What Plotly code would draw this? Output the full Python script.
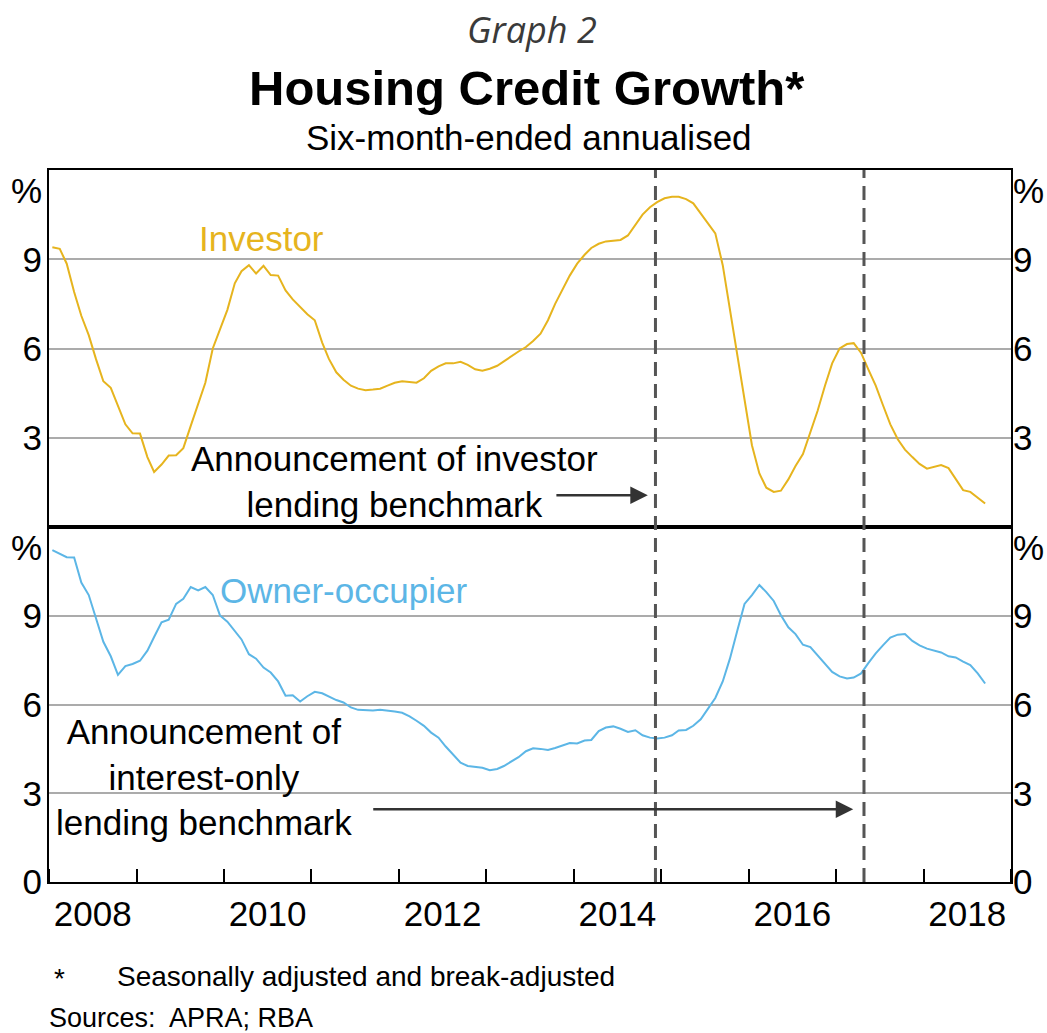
import pandas as pd
import plotly.graph_objects as go

# ---------------- data ----------------
start_month = "2008-01-01"
n_months = 129  # Jan 2008 .. Sep 2018

investor = [
    9.40, 9.35, 8.85, 7.90, 7.10, 6.45, 5.65, 4.90, 4.68, 4.10,
    3.45, 3.15, 3.14, 2.35, 1.85, 2.10, 2.40, 2.41, 2.65, 3.40,
    4.10, 4.85, 6.00, 6.65, 7.30, 8.19, 8.60, 8.80, 8.52, 8.78,
    8.47, 8.45, 7.95, 7.65, 7.38, 7.15, 6.95, 6.20, 5.65, 5.20,
    4.95, 4.75, 4.65, 4.60, 4.62, 4.65, 4.75, 4.85, 4.90, 4.88,
    4.85, 5.00, 5.25, 5.40, 5.50, 5.50, 5.55, 5.45, 5.30, 5.25,
    5.32, 5.42, 5.58, 5.75, 5.90, 6.05, 6.25, 6.50, 6.95, 7.50,
    8.00, 8.45, 8.85, 9.15, 9.38, 9.52, 9.60, 9.62, 9.65, 9.80,
    10.15, 10.50, 10.75, 10.92, 11.05, 11.10, 11.10, 11.02, 10.88, 10.55,
    10.20, 9.87, 8.80, 7.30, 5.70, 4.20, 2.75, 1.80, 1.32, 1.18,
    1.22, 1.60, 2.05, 2.45, 3.15, 3.90, 4.75, 5.50, 6.00, 6.15,
    6.18, 5.85, 5.30, 4.75, 4.10, 3.45, 2.95, 2.60, 2.35, 2.12,
    1.96, 2.02, 2.08, 1.98, 1.60, 1.24, 1.18, 0.98, 0.79,
]

owner_occupier = [
    11.22, 11.10, 10.98, 10.97, 10.12, 9.70, 8.96, 8.12, 7.63, 7.00,
    7.30, 7.37, 7.48, 7.82, 8.28, 8.78, 8.87, 9.40, 9.57, 9.97,
    9.86, 9.97, 9.70, 9.01, 8.80, 8.50, 8.20, 7.70, 7.55, 7.25,
    7.08, 6.78, 6.30, 6.31, 6.10, 6.28, 6.43, 6.38, 6.27, 6.15,
    6.07, 5.90, 5.82, 5.80, 5.80, 5.82, 5.80, 5.76, 5.72, 5.60,
    5.45, 5.28, 5.05, 4.88, 4.58, 4.30, 4.03, 3.92, 3.89, 3.86,
    3.78, 3.82, 3.92, 4.08, 4.22, 4.42, 4.52, 4.50, 4.46, 4.53,
    4.62, 4.70, 4.68, 4.78, 4.80, 5.10, 5.22, 5.26, 5.18, 5.07,
    5.13, 4.96, 4.88, 4.85, 4.88, 4.96, 5.12, 5.14, 5.28, 5.50,
    5.85, 6.22, 6.78, 7.55, 8.50, 9.40, 9.70, 10.04, 9.80, 9.50,
    9.02, 8.61, 8.38, 8.02, 7.94, 7.65, 7.37, 7.10, 6.95, 6.88,
    6.91, 7.05, 7.40, 7.73, 8.00, 8.26, 8.36, 8.38, 8.15, 8.00,
    7.89, 7.83, 7.76, 7.63, 7.59, 7.45, 7.33, 7.05, 6.71,
]

year_labels = ["2008", "2010", "2012", "2014", "2016", "2018"]
label_positions = ["2008-07-02", "2010-07-02", "2012-07-02",
                   "2014-07-02", "2016-07-02", "2018-07-02"]
top_ticks = [3, 6, 9]
top_ticktext = ["3", "6", "9"]
bottom_ticks = [0, 3, 6, 9]
bottom_ticktext = ["0", "3", "6", "9"]

investor_event = "2014-12-08"
io_event = "2017-04-27"

dates = pd.date_range(start_month, periods=n_months, freq="MS") + pd.Timedelta(days=14)

# ---------------- styling ----------------
FONT = "Liberation Sans, Arial, Helvetica, sans-serif"
INV_COL = "#E6B41E"
OO_COL = "#5CB6E6"
GRID = "#ABABAB"
TS = 35
split = (882 - 527) / 712.0
x_range = ["2008-01-01", "2019-01-01"]

fig = go.Figure()
fig.add_trace(go.Scatter(x=dates, y=investor, mode="lines", xaxis="x", yaxis="y",
                         line=dict(color=INV_COL, width=2), showlegend=False, hoverinfo="skip"))
fig.add_trace(go.Scatter(x=dates, y=owner_occupier, mode="lines", xaxis="x2", yaxis="y2",
                         line=dict(color=OO_COL, width=2), showlegend=False, hoverinfo="skip"))
# helper traces so the overlay (label) axes are drawn
for ya, xa in [("y3", "x"), ("y4", "x"), ("y5", "x2"), ("y6", "x2")]:
    fig.add_trace(go.Scatter(x=[dates[0]], y=[None], xaxis=xa, yaxis=ya, mode="lines",
                             showlegend=False, hoverinfo="skip"))

axis_line = dict(showline=True, linecolor="black", linewidth=2, mirror=True, automargin=False)

label_axis = dict(range=[0, 12], tickmode="array", showgrid=False, zeroline=False,
                  ticks="", tickfont=dict(size=TS, color="black", family=FONT),
                  showline=False, fixedrange=True, automargin=False)

fig.update_layout(
    template="none",
    width=1047, height=1033,
    margin=dict(l=49, r=36, t=170, b=151, autoexpand=False),
    paper_bgcolor="white", plot_bgcolor="white",
    font=dict(family=FONT, color="black"),
    xaxis=dict(domain=[0, 1], anchor="y", range=x_range, type="date",
               showticklabels=False, ticks="", showgrid=False, zeroline=False, **axis_line),
    xaxis2=dict(domain=[0, 1], anchor="y2", range=x_range, type="date",
                tickmode="array", tickvals=label_positions, ticktext=year_labels,
                ticks="", showgrid=False, zeroline=False,
                tickfont=dict(size=TS, color="black", family=FONT),
                minor=dict(ticks="inside", ticklen=13, tickwidth=2, tickcolor="black",
                           dtick="M12", tick0="2008-01-01", showgrid=False),
                **axis_line),
    yaxis=dict(domain=[split, 1], anchor="x", range=[0, 12], tickmode="array",
               tickvals=top_ticks, showticklabels=False, ticks="", showgrid=True,
               gridcolor=GRID, gridwidth=1.5, zeroline=False, **axis_line),
    yaxis2=dict(domain=[0, split], anchor="x2", range=[0, 12], tickmode="array",
                tickvals=bottom_ticks, showticklabels=False, ticks="", showgrid=True,
                gridcolor=GRID, gridwidth=1.5, zeroline=False, **axis_line),
    yaxis3=dict(overlaying="y", anchor="x", side="left", ticklabelstandoff=6,
                tickvals=top_ticks + [11.3], ticktext=top_ticktext + ["%"], **label_axis),
    yaxis4=dict(overlaying="y", anchor="x", side="right", ticklabelstandoff=1,
                tickvals=top_ticks + [11.3], ticktext=top_ticktext + ["%"], **label_axis),
    yaxis5=dict(overlaying="y2", anchor="x2", side="left", ticklabelstandoff=6,
                tickvals=bottom_ticks + [11.3], ticktext=bottom_ticktext + ["%"], **label_axis),
    yaxis6=dict(overlaying="y2", anchor="x2", side="right", ticklabelstandoff=1,
                tickvals=bottom_ticks + [11.3], ticktext=bottom_ticktext + ["%"], **label_axis),
)

# thick divider between panels
fig.add_shape(type="line", xref="paper", yref="paper", x0=0, x1=1, y0=split, y1=split,
              line=dict(color="black", width=4))
# event lines spanning both panels
for d in [investor_event, io_event]:
    fig.add_shape(type="line", xref="x2", yref="paper", x0=d, x1=d, y0=0, y1=1,
                  line=dict(color="#555555", width=3, dash="14px,8px"))

ann = []
def txt(text, x, y, xref, yref, size=TS, color="black", xanchor="center", **kw):
    ann.append(dict(text=text, x=x, y=y, xref=xref, yref=yref, showarrow=False,
                    font=dict(size=size, color=color, family=kw.pop("family", FONT)),
                    xanchor=xanchor, yanchor="middle", **kw))

txt("<i>Graph 2</i>", 0.502, 1.197, "paper", "paper", size=36, color="#3a3a3a",
    family="Open Sans, DejaVu Sans, sans-serif")
txt("<b>Housing Credit Growth*</b>", 0.497, 1.115, "paper", "paper", size=49)
txt("Six-month-ended annualised", 0.499, 1.045, "paper", "paper", size=35)

txt("Investor", 0.1536, 9.71, "paper", "y", color=INV_COL, xanchor="left")
txt("Owner-occupier", 0.1754, 9.86, "paper", "y2", color=OO_COL, xanchor="left")

txt("Announcement of investor<br>lending benchmark", "2011-12-15", 1.54, "x", "y")
txt("Announcement of<br>interest-only<br>lending benchmark", "2009-10-08", 3.54, "x2", "y2")

txt("*", 0.003, -0.135, "paper", "paper", size=28, xanchor="left")
txt("Seasonally adjusted and break-adjusted", 0.0683, -0.133, "paper", "paper", size=28, xanchor="left")
txt("Sources:  APRA; RBA", -0.0024, -0.191, "paper", "paper", size=27, xanchor="left")

# arrows
ann.append(dict(x="2014-11-06", y=1.07, ax="2013-10-14", ay=1.07, xref="x", yref="y",
                axref="x", ayref="y", showarrow=True, arrowhead=2, arrowsize=1.4,
                arrowwidth=2.5, arrowcolor="#333333", text=""))
ann.append(dict(x="2017-03-13", y=2.46, ax="2011-09-10", ay=2.46, xref="x2", yref="y2",
                axref="x2", ayref="y2", showarrow=True, arrowhead=2, arrowsize=1.4,
                arrowwidth=2.5, arrowcolor="#333333", text=""))

fig.update_layout(annotations=ann)
fig.write_html("out.html", config={"displayModeBar": False},
               post_script="document.body.style.margin='0';document.body.style.overflow='hidden';")
